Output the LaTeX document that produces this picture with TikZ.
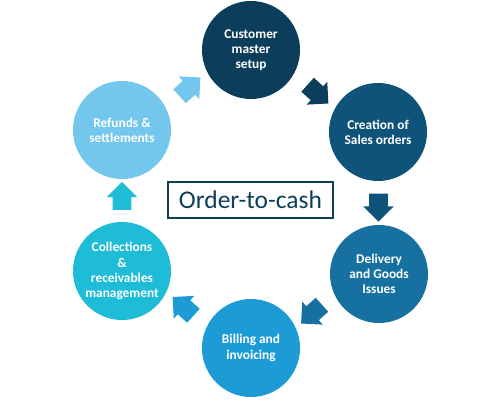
\documentclass[tikz,border=0pt]{standalone}
\usepackage{fontspec}
\setmainfont{Carlito}
\usetikzlibrary{shapes.arrows,calc}

\definecolor{stepA}{RGB}{12,62,92}
\definecolor{stepB}{RGB}{16,83,122}
\definecolor{stepC}{RGB}{22,113,161}
\definecolor{stepD}{RGB}{28,155,214}
\definecolor{stepE}{RGB}{31,188,215}
\definecolor{stepF}{RGB}{115,199,236}

\begin{document}
\begin{tikzpicture}[
  stage/.style={circle, minimum size=1.96cm, inner sep=0pt, text=white,
    align=center, font=\fontsize{7.6}{8.6}\selectfont\bfseries},
  turn/.style={single arrow, single arrow head extend=0.12cm,
    single arrow head indent=0pt, minimum height=0.56cm,
    inner xsep=0pt, inner ysep=0.18cm}
]
\useasboundingbox (0,0) rectangle (10,8);

\node[stage, fill=stepA] at (5.02,7.0) (customer) {Customer\\master\\setup};
\node[stage, fill=stepB] at (7.56,5.36) (sales) {Creation of\\Sales orders};
\node[stage, fill=stepC] at (7.58,2.52) (delivery) {Delivery\\and Goods\\Issues};
\node[stage, fill=stepD] at (5.02,1.04) (billing) {Billing and\\invoicing};
\node[stage, fill=stepE] at (2.44,2.58) (collect) {Collections\\\&\\receivables\\management};
\node[stage, fill=stepF] at (2.44,5.4) (refunds) {Refunds \&\\settlements};

\node[draw=stepA, line width=1.1pt, text=stepA, minimum width=3.3cm,
  minimum height=0.72cm, font=\fontsize{14.5}{16}\selectfont]
  at (5.01,4.0) (title) {Order-to-cash};

% arrows between the stages
\node[turn, fill=stepA, rotate=-42] at ($(customer)!0.5!(sales)$) (a1) {};
\node[turn, fill=stepB, rotate=-90] at ($(sales)!0.5!(delivery)$) (a2) {};
\node[turn, fill=stepC, rotate=-138] at ($(delivery)!0.5!(billing)$) (a3) {};
\node[turn, fill=stepD, rotate=138] at ($(billing)!0.5!(collect)$) (a4) {};
\node[turn, fill=stepE, rotate=90] at ($(collect)!0.5!(refunds)$) (a5) {};
\node[turn, fill=stepF, rotate=42] at ($(refunds)!0.5!(customer)$) (a6) {};
\end{tikzpicture}
\end{document}
